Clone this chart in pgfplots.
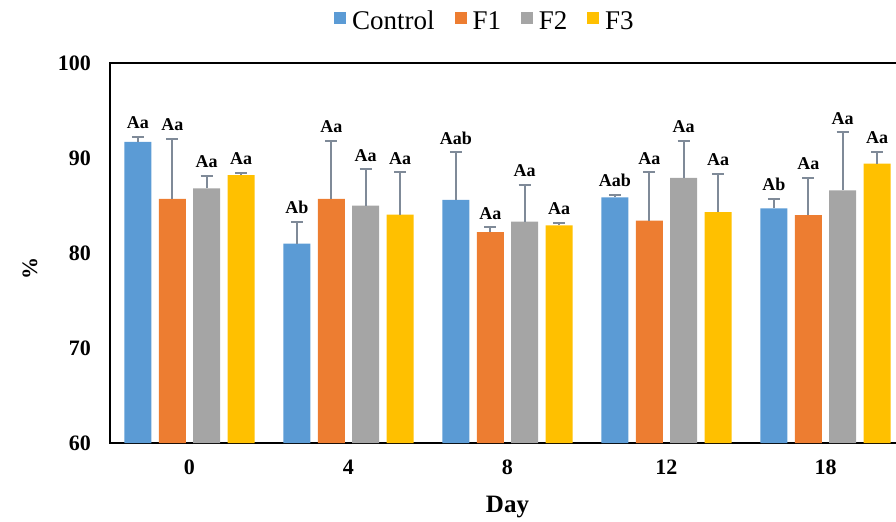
\documentclass[border=0pt]{standalone}
\usepackage{fontspec}
\setmainfont{Liberation Serif}
\usepackage{pgfplots}
\pgfplotsset{compat=1.18}
\usepackage{pgfplotstable}

\definecolor{cCtrl}{HTML}{5B9BD5}
\definecolor{cF1}{HTML}{ED7D31}
\definecolor{cF2}{HTML}{A5A5A5}
\definecolor{cF3}{HTML}{FFC000}
\definecolor{errc}{HTML}{7F8A98}

\pgfplotstableread{
x y e lab
0 91.7 0.5 Aa
1 81.0 2.3 Ab
2 85.6 5.0 Aab
3 85.85 0.25 Aab
4 84.7 1.0 Ab
}\ctrl
\pgfplotstableread{
x y e lab
0 85.7 6.3 Aa
1 85.7 6.1 Aa
2 82.2 0.5 Aa
3 83.4 5.1 Aa
4 84.0 3.9 Aa
}\fone
\pgfplotstableread{
x y e lab
0 86.8 1.3 Aa
1 85.0 3.8 Aa
2 83.3 3.9 Aa
3 87.9 3.9 Aa
4 86.6 6.1 Aa
}\ftwo
\pgfplotstableread{
x y e lab
0 88.2 0.25 Aa
1 84.05 4.45 Aa
2 82.9 0.3 Aa
3 84.3 4.0 Aa
4 89.4 1.25 Aa
}\fthree

\pgfplotsset{
  mybar/.style={ybar, bar width=0.17, bar shift=0pt, fill=#1, draw=none, forget plot},
  myerr/.style={only marks, mark=*, mark size=0pt, mark options={draw opacity=0, fill opacity=0}, forget plot,
    error bars/.cd, y dir=plus, y explicit,
    error bar style={color=errc, line width=1pt, draw opacity=1},
    error mark options={rotate=90, mark size=3pt, line width=1pt, color=errc, draw opacity=1}},
  mylab/.style={only marks, mark=none, forget plot, nodes near coords,
    point meta=explicit symbolic,
    nodes near coords style={font=\rmfamily\bfseries\fontsize{9}{10}\selectfont, anchor=south, yshift=0.5pt, text=black}},
}

\begin{document}
\begin{tikzpicture}
\useasboundingbox (-55pt,-39pt) rectangle (393pt,221.5pt);
\clip (-55pt,-39pt) rectangle (393pt,221.5pt);
\begin{axis}[
  scale only axis, width=397.5pt, height=190pt,
  at={(0pt,0pt)}, anchor=south west,
  xmin=-0.5, xmax=4.5, ymin=60, ymax=100,
  xtick={0,1,2,3,4}, xticklabels={0,4,8,12,18},
  ytick={60,70,80,90,100},
  major tick length=0pt,
  axis line style={line width=1pt, black},
  /pgf/number format/assume math mode=true,
  ticklabel style={font=\rmfamily\bfseries\fontsize{11}{13}\selectfont},
  xticklabel style={yshift=-5pt},
  yticklabel style={xshift=-6pt},
  xlabel={Day},
  xlabel style={font=\rmfamily\bfseries\fontsize{12.5}{14}\selectfont, at={(axis description cs:0.5,-0.168)}, anchor=center},
  ylabel={\%},
  ylabel style={font=\rmfamily\bfseries\fontsize{11}{13}\selectfont, at={(axis description cs:-0.1006,0.46)}, anchor=center},
  legend style={at={(axis description cs:0.473,1.108)}, anchor=center, draw=none, fill=none,
    legend columns=4, font=\rmfamily\fontsize{13.5}{15}\selectfont,
    /tikz/every even column/.append style={column sep=8pt},
    /tikz/every odd column/.append style={column sep=1pt}},
]
\addlegendimage{legend image code/.code={\fill[cCtrl] (0pt,-0.5pt) rectangle (5.5pt,5pt);}}
\addlegendentry{Control}
\addlegendimage{legend image code/.code={\fill[cF1] (0pt,-0.5pt) rectangle (5.5pt,5pt);}}
\addlegendentry{F1}
\addlegendimage{legend image code/.code={\fill[cF2] (0pt,-0.5pt) rectangle (5.5pt,5pt);}}
\addlegendentry{F2}
\addlegendimage{legend image code/.code={\fill[cF3] (0pt,-0.5pt) rectangle (5.5pt,5pt);}}
\addlegendentry{F3}

\addplot[mybar=cCtrl] table[x expr=\thisrow{x}-0.325, y=y]{\ctrl};
\addplot[mybar=cF1] table[x expr=\thisrow{x}-0.108, y=y]{\fone};
\addplot[mybar=cF2] table[x expr=\thisrow{x}+0.108, y=y]{\ftwo};
\addplot[mybar=cF3] table[x expr=\thisrow{x}+0.325, y=y]{\fthree};

\addplot[myerr] table[x expr=\thisrow{x}-0.325, y=y, y error=e]{\ctrl};
\addplot[myerr] table[x expr=\thisrow{x}-0.108, y=y, y error=e]{\fone};
\addplot[myerr] table[x expr=\thisrow{x}+0.108, y=y, y error=e]{\ftwo};
\addplot[myerr] table[x expr=\thisrow{x}+0.325, y=y, y error=e]{\fthree};

\addplot[mylab] table[x expr=\thisrow{x}-0.325, y expr=\thisrow{y}+\thisrow{e}, meta=lab]{\ctrl};
\addplot[mylab] table[x expr=\thisrow{x}-0.108, y expr=\thisrow{y}+\thisrow{e}, meta=lab]{\fone};
\addplot[mylab] table[x expr=\thisrow{x}+0.108, y expr=\thisrow{y}+\thisrow{e}, meta=lab]{\ftwo};
\addplot[mylab] table[x expr=\thisrow{x}+0.325, y expr=\thisrow{y}+\thisrow{e}, meta=lab]{\fthree};
\end{axis}
\end{tikzpicture}
\end{document}
